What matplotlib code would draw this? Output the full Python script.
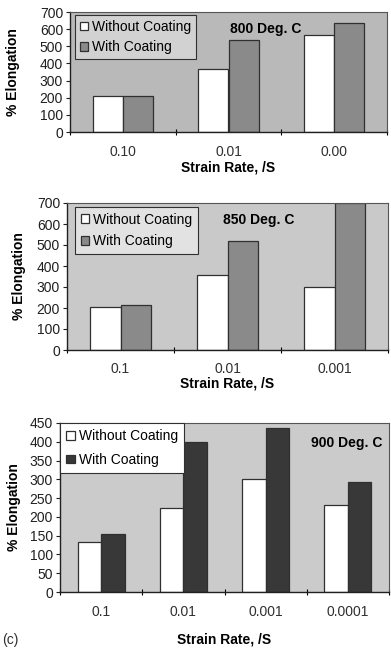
import matplotlib.pyplot as plt
import numpy as np

plt.rcParams['font.family'] = ['Liberation Sans', 'DejaVu Sans']
plt.rcParams['font.size'] = 10

# data
rates_800 = ['0.10', '0.01', '0.00']
without_800 = [208, 370, 565]
with_800 = [212, 535, 635]

rates_850 = ['0.1', '0.01', '0.001']
without_850 = [203, 355, 298]
with_850 = [213, 517, 700]

rates_900 = ['0.1', '0.01', '0.001', '0.0001']
without_900 = [134, 225, 300, 232]
with_900 = [155, 400, 437, 292]

W, H = 391, 649
fig = plt.figure(figsize=(W / 100, H / 100), dpi=100)


def px_axes(l, t, r, b):
    return fig.add_axes([l / W, 1 - b / H, (r - l) / W, (b - t) / H])


def fx(x):
    return x / W


def fy(y):
    return 1 - y / H


def panel(box, cats, v1, v2, ymax, ystep, bg, c2, legbg, legpos, title, tpos, ylab_x, xt_y, xl_y, pad=0.35, lsp=0.45):
    ax = px_axes(*box)
    n = len(cats)
    x = np.arange(n)
    w = 0.2857
    ax.set_facecolor(bg)
    ax.bar(x - w / 2, v1, w, color='white', edgecolor='#303030', linewidth=0.9, label='Without Coating')
    ax.bar(x + w / 2, v2, w, color=c2, edgecolor='#303030', linewidth=0.9, label='With Coating')
    ax.set_xlim(-0.5, n - 0.5)
    ax.set_ylim(0, ymax)
    ax.set_yticks(np.arange(0, ymax + 1, ystep))
    ax.set_xticks(x)
    ax.set_xticklabels([])
    ax.tick_params(axis='x', which='major', length=0)
    ax.set_xticks(np.arange(-0.5, n, 1.0), minor=True)
    ax.tick_params(axis='x', which='minor', length=4, direction='inout', width=0.8)
    ax.tick_params(axis='y', length=3, width=0.8, direction='out', labelsize=10, pad=2, colors='#202020')
    for s in ['top', 'right']:
        ax.spines[s].set_color('#555555')
        ax.spines[s].set_linewidth(0.8)
    for s in ['left', 'bottom']:
        ax.spines[s].set_color('#202020')
        ax.spines[s].set_linewidth(1.0)
    # category labels
    for xi, c in zip(x, cats):
        xd = ax.transData.transform((xi, 0))[0]
        fig.text(xd / W, fy(xt_y), c, ha='center', va='center', fontsize=10, color='#303030')
    cx = (box[0] + box[2]) / 2
    fig.text(fx(cx), fy(xl_y), 'Strain Rate, /S', ha='center', va='center', fontsize=10, fontweight='bold')
    fig.text(fx(ylab_x), fy((box[1] + box[3]) / 2), '% Elongation', rotation=90, ha='center', va='center',
             fontsize=10, fontweight='bold')
    fig.text(fx(tpos[0]), fy(tpos[1]), title, ha='center', va='center', fontsize=10, fontweight='bold')
    leg = ax.legend(loc='upper left', bbox_to_anchor=(fx(legpos[0]), fy(legpos[1])),
                    bbox_transform=fig.transFigure, fancybox=False, framealpha=1,
                    facecolor=legbg, edgecolor='#303030', fontsize=10, handlelength=0.6, handleheight=0.6,
                    handletextpad=0.3, borderpad=pad, labelspacing=lsp, borderaxespad=0)
    leg.get_frame().set_linewidth(0.8)
    return ax


panel((70, 12, 387, 132), rates_800, without_800, with_800, 700, 100, '#b9b9b9', '#8a8a8a', '#d2d2d2',
      (75, 15), '800 Deg. C', (266, 29), 13, 152, 168)
panel((67, 203, 388, 350), rates_850, without_850, with_850, 700, 100, '#c9c9c9', '#8a8a8a', '#e2e2e2',
      (75, 207), '850 Deg. C', (259, 220), 19, 369, 383, pad=0.4, lsp=0.55)
panel((60, 423, 389, 592), rates_900, without_900, with_900, 450, 50, '#cbcbcb', '#383838', '#ffffff',
      (60, 423), '900 Deg. C', (347, 443), 14, 612, 640, pad=0.45, lsp=0.7)

fig.text(fx(10), fy(640), '(c)', ha='center', va='center', fontsize=10, color='#303030')

fig.savefig('out.png', dpi=100)
